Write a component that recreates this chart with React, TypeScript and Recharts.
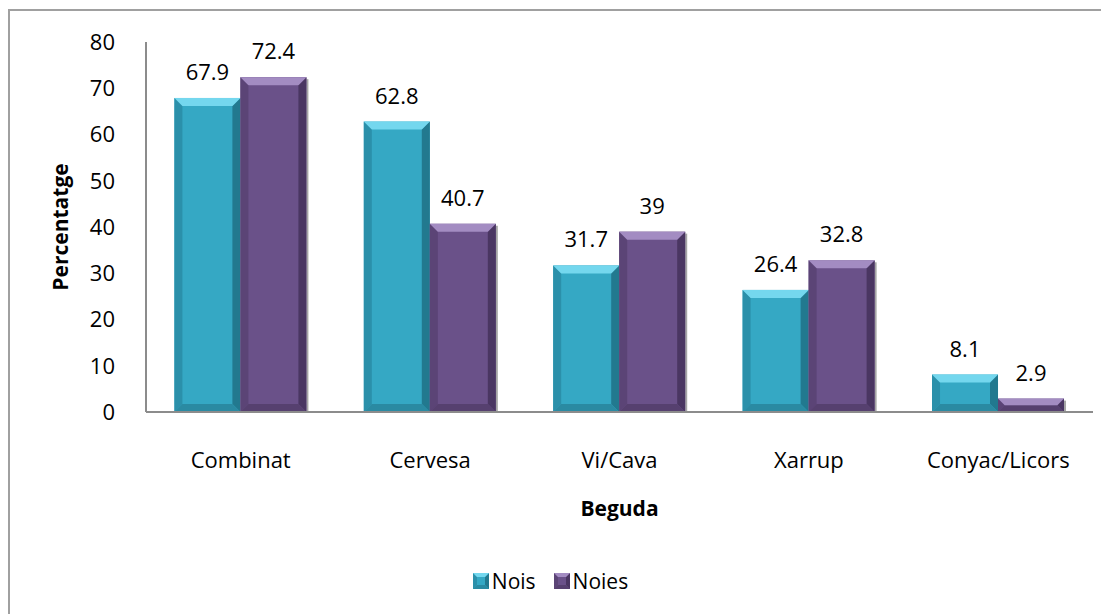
import { BarChart, Bar, XAxis, YAxis, Legend, LabelList } from 'recharts';

const categories = ['Combinat', 'Cervesa', 'Vi/Cava', 'Xarrup', 'Conyac/Licors'];
const noisValues = [67.9, 62.8, 31.7, 26.4, 8.1];
const noiesValues = [72.4, 40.7, 39, 32.8, 2.9];
const yTicks = [0, 10, 20, 30, 40, 50, 60, 70, 80];

const data = categories.map((name, i) => ({
  name,
  nois: noisValues[i],
  noies: noiesValues[i],
}));

const FONT = '"Open Sans", "Noto Sans", sans-serif';

const palette = {
  nois: { main: '#35a8c4', top: '#74d7ee', left: '#2b90aa', right: '#22798f', bottom: '#2a8aa2' },
  noies: { main: '#6a5189', top: '#a38cc2', left: '#5b4476', right: '#4a3662', bottom: '#56406f' },
};

type Pal = typeof palette.nois;

function bevelShape(pal: Pal, shadow: boolean) {
  return (props: any) => {
    const { x, y, width, height } = props;
    if (!height || height <= 0) return null;
    const b = Math.min(8, height / 2, width / 4);
    return (
      <g>
        {shadow && <rect x={x + width} y={y + 2} width={2} height={height - 2} fill="#a6a6a6" />}
        <rect x={x} y={y} width={width} height={height} fill={pal.main} />
        <polygon
          points={`${x},${y} ${x + b},${y + b} ${x + b},${y + height - b} ${x},${y + height}`}
          fill={pal.left}
        />
        <polygon
          points={`${x + width},${y} ${x + width - b},${y + b} ${x + width - b},${y + height - b} ${x + width},${y + height}`}
          fill={pal.right}
        />
        <polygon
          points={`${x},${y + height} ${x + b},${y + height - b} ${x + width - b},${y + height - b} ${x + width},${y + height}`}
          fill={pal.bottom}
        />
        <polygon
          points={`${x},${y} ${x + width},${y} ${x + width - b},${y + b} ${x + b},${y + b}`}
          fill={pal.top}
        />
      </g>
    );
  };
}

function LegendIcon({ pal }: { pal: Pal }) {
  const s = 16;
  const b = 4;
  return (
    <svg width={s} height={s} style={{ marginRight: 3 }}>
      <rect x={0} y={0} width={s} height={s} fill={pal.main} />
      <polygon points={`0,0 ${b},${b} ${b},${s - b} 0,${s}`} fill={pal.left} />
      <polygon points={`${s},0 ${s - b},${b} ${s - b},${s - b} ${s},${s}`} fill={pal.right} />
      <polygon points={`0,${s} ${b},${s - b} ${s - b},${s - b} ${s},${s}`} fill={pal.bottom} />
      <polygon points={`0,0 ${s},0 ${s - b},${b} ${b},${b}`} fill={pal.top} />
    </svg>
  );
}

function LegendContent() {
  const items = [
    { label: 'Nois', pal: palette.nois },
    { label: 'Noies', pal: palette.noies },
  ];
  return (
    <div style={{ display: 'flex', justifyContent: 'center', alignItems: 'center', fontFamily: FONT, fontSize: 21 }}>
      {items.map((it) => (
        <div key={it.label} style={{ display: 'flex', alignItems: 'center', marginRight: 18 }}>
          <LegendIcon pal={it.pal} />
          <span>{it.label}</span>
        </div>
      ))}
    </div>
  );
}

export default function App() {
  return (
    <div
      style={{
        width: 1101,
        height: 604,
        marginTop: 1,
        borderLeft: '2px solid #a0a0a0',
        borderTop: '2px solid #a0a0a0',
        fontFamily: FONT,
        background: '#fff',
      }}
    >
      <BarChart
        width={1099}
        height={602}
        data={data}
        margin={{ top: 31, right: 16, left: 0, bottom: 0 }}
        barCategoryGap="15%"
        barGap={0}
      >
        <XAxis
          dataKey="name"
          height={201}
          tickLine={false}
          tickSize={0}
          tickMargin={40}
          axisLine={{ stroke: '#8c8c8c', strokeWidth: 2 }}
          tick={{ fontSize: 22, fill: '#000', fontFamily: FONT }}
          label={{
            content: (p: any) => {
              const vb = p.viewBox;
              return (
                <text
                  x={vb.x + vb.width / 2}
                  y={vb.y + 96}
                  textAnchor="middle"
                  dominantBaseline="central"
                  fontSize={21}
                  fontWeight="bold"
                  fontFamily={FONT}
                  fill="#000"
                >
                  Beguda
                </text>
              );
            },
          }}
        />
        <YAxis
          width={136}
          domain={[0, 80]}
          ticks={yTicks}
          interval={0}
          tickLine={false}
          tickSize={0}
          tickMargin={31}
          axisLine={{ stroke: '#8c8c8c', strokeWidth: 2 }}
          tick={{ fontSize: 22, fill: '#000', fontFamily: FONT }}
          label={{
            content: (p: any) => {
              const vb = p.viewBox;
              const cx = vb.x + 50;
              const cy = vb.y + vb.height / 2;
              return (
                <text
                  x={cx}
                  y={cy}
                  transform={`rotate(-90 ${cx} ${cy})`}
                  textAnchor="middle"
                  dominantBaseline="central"
                  fontSize={21}
                  fontWeight="bold"
                  fontFamily={FONT}
                  fill="#000"
                >
                  Percentatge
                </text>
              );
            },
          }}
        />
        <Legend
          verticalAlign="middle"
          align="center"
          layout="horizontal"
          content={<LegendContent />}
          wrapperStyle={{ top: 556, left: 0, width: 1099 }}
        />
        <Bar dataKey="nois" name="Nois" fill={palette.nois.main} shape={bevelShape(palette.nois, false)} isAnimationActive={false}>
          <LabelList dataKey="nois" position="top" offset={18} style={{ fontSize: 22, fill: '#000', fontFamily: FONT }} />
        </Bar>
        <Bar dataKey="noies" name="Noies" fill={palette.noies.main} shape={bevelShape(palette.noies, true)} isAnimationActive={false}>
          <LabelList dataKey="noies" position="top" offset={18} style={{ fontSize: 22, fill: '#000', fontFamily: FONT }} />
        </Bar>
      </BarChart>
    </div>
  );
}
